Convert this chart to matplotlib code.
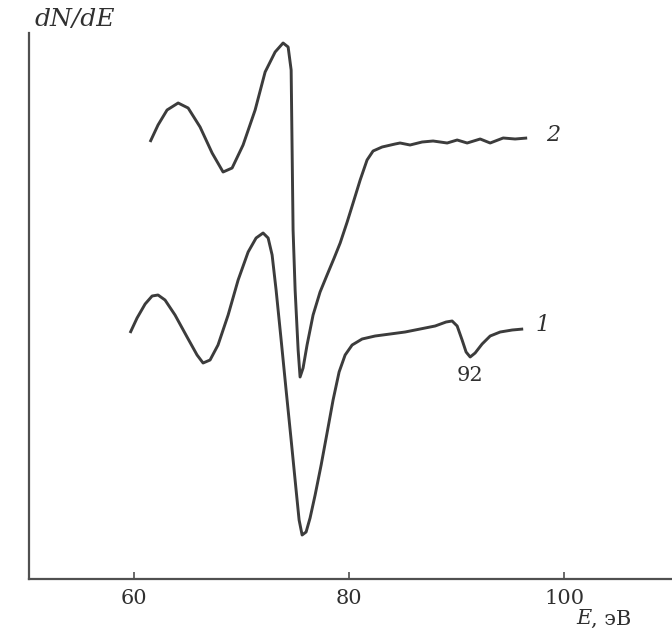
import matplotlib
matplotlib.use("Agg")
import matplotlib.pyplot as plt

# Curve 2 (upper)
e2 = [61.46, 62.20, 63.04, 64.07, 65.00, 66.11, 67.23, 68.25, 69.09, 70.11,
      71.23, 72.16, 73.09, 73.83, 74.30, 74.58, 74.67, 74.76, 74.95, 75.23,
      75.41, 75.69, 76.06, 76.62, 77.27, 77.92, 78.58, 79.14, 79.79, 80.34,
      81.00, 81.64, 82.20, 83.04, 84.25, 84.71, 85.64, 86.76, 87.78, 89.09,
      90.02, 90.95, 92.16, 93.09, 94.30, 95.41, 96.53]
v2 = [43.5, 45.2, 46.7, 47.4, 46.9, 45.0, 42.4, 40.5, 40.9, 43.2,
      46.7, 50.5, 52.5, 53.4, 53.0, 50.7, 42.7, 34.7, 28.7, 22.7,
      20.0, 20.9, 23.2, 26.2, 28.5, 30.2, 31.9, 33.4, 35.5, 37.4,
      39.7, 41.7, 42.6, 43.0, 43.3, 43.4, 43.2, 43.5, 43.6, 43.4,
      43.7, 43.4, 43.8, 43.4, 43.9, 43.8, 43.9]

# Curve 1 (lower)
e1 = [59.60, 60.25, 61.00, 61.65, 62.20, 62.85, 63.78, 64.90, 65.83, 66.39,
      67.04, 67.78, 68.72, 69.65, 70.58, 71.32, 71.97, 72.44, 72.81, 73.18,
      73.65, 74.11, 74.58, 75.04, 75.32, 75.60, 75.97, 76.34, 76.81, 77.37,
      77.92, 78.48, 79.04, 79.60, 80.25, 81.18, 82.39, 83.79, 85.18, 86.58,
      87.97, 88.99, 89.55, 90.02, 90.48, 90.85, 91.23, 91.69, 92.34, 93.09,
      94.02, 95.14, 96.16]
v1 = [24.4, 25.9, 27.3, 28.1, 28.2, 27.7, 26.2, 24.0, 22.2, 21.4,
      21.7, 23.2, 26.2, 29.7, 32.5, 33.9, 34.4, 33.9, 32.2, 28.7,
      23.7, 18.7, 13.7, 8.7, 5.7, 4.2, 4.5, 5.9, 8.2, 11.2,
      14.4, 17.7, 20.5, 22.2, 23.2, 23.8, 24.1, 24.3, 24.5, 24.8,
      25.1, 25.5, 25.6, 25.1, 23.7, 22.5, 22.0, 22.4, 23.3, 24.1,
      24.5, 24.7, 24.8]

xticks = [60, 80, 100]
xtick_labels = ["60", "80", "100"]

W, H = 672, 630
fig = plt.figure(figsize=(W / 100, H / 100), dpi=100)
ax = fig.add_axes([29 / W, (H - 579) / H, (W - 29) / W, 579 / H])
ax.set_xlim(50.2, 110.0)
ax.set_ylim(-0.2, 57.7)

line_col = "#3c3c3c"
ax.plot(e2, v2, color=line_col, lw=2.1, solid_capstyle="butt", solid_joinstyle="round")
ax.plot(e1, v1, color=line_col, lw=2.1, solid_capstyle="butt", solid_joinstyle="round")

for s in ["top", "right"]:
    ax.spines[s].set_visible(False)
for s in ["left", "bottom"]:
    ax.spines[s].set_color("#505050")
    ax.spines[s].set_linewidth(1.6)
ax.spines["left"].set_bounds(-0.2, 54.4)

ax.set_yticks([])
ax.set_xticks(xticks)
ax.set_xticklabels(xtick_labels, fontfamily="DejaVu Serif", fontsize=15, color="#303030")
ax.tick_params(axis="x", direction="in", length=5, width=1.2, color="#505050", pad=7)

ax.text(98.95, 44.2, "2", fontfamily="DejaVu Serif", style="italic", fontsize=16,
        color="#303030", ha="center", va="center")
ax.text(98.0, 25.2, "1", fontfamily="DejaVu Serif", style="italic", fontsize=16,
        color="#303030", ha="center", va="center")
ax.text(91.23, 20.2, "92", fontfamily="DejaVu Serif", fontsize=15,
        color="#303030", ha="center", va="center")

fig.text(75 / W, 1 - 19 / H, "dN/dE", fontfamily="DejaVu Serif", style="italic",
         fontsize=18, color="#303030", ha="center", va="center")
fig.text(576 / W, 1 - 619 / H, "E", fontfamily="DejaVu Serif", style="italic",
         fontsize=15, color="#303030", ha="left", va="center")
fig.text(591 / W, 1 - 619 / H, ", эВ", fontfamily="DejaVu Serif",
         fontsize=15, color="#303030", ha="left", va="center")

fig.savefig("out.png", dpi=100)
